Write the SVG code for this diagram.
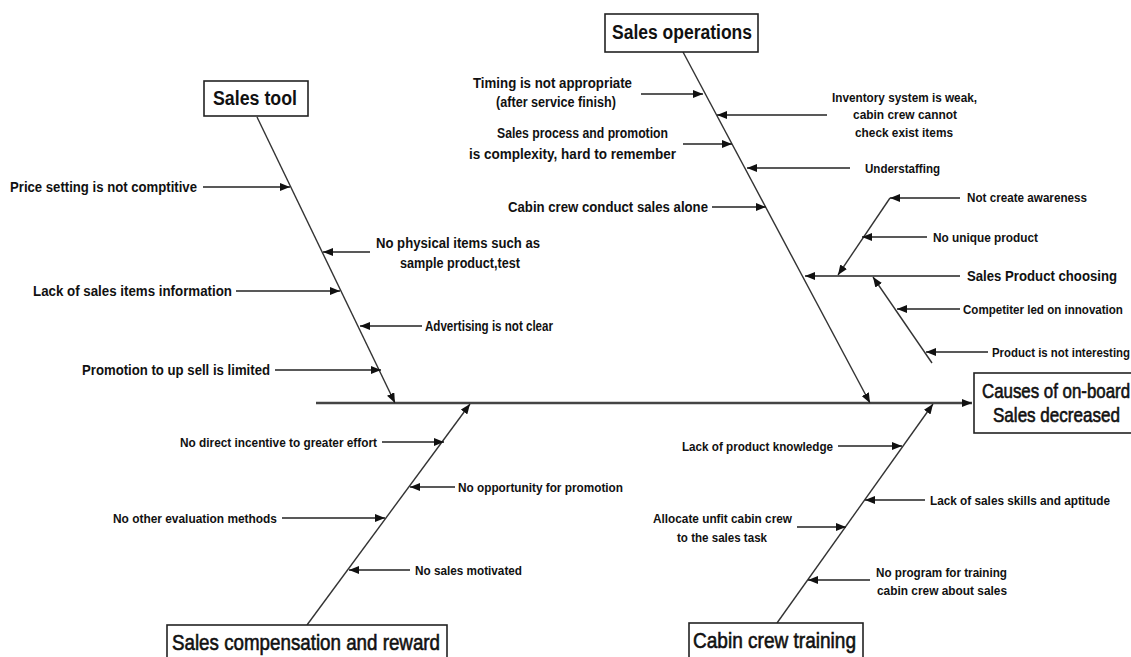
<svg xmlns="http://www.w3.org/2000/svg" width="1131" height="657" viewBox="0 0 1131 657">
<style>
  .bg{fill:#ffffff}
  .spine{stroke:#444;stroke-width:2.6;fill:none}
  .bone{stroke:#333;stroke-width:1.4;fill:none}
  .arr{stroke:#222;stroke-width:1.5;fill:none}
  .box{fill:#fff;stroke:#222;stroke-width:1.6}
  .lbl{font-family:"Liberation Sans",Arial,sans-serif;font-weight:bold;font-size:14px;fill:#111}
  .sm{font-size:13px}
  .md{font-size:15px}
  .ttl{font-family:"Liberation Sans",Arial,sans-serif;font-weight:bold;font-size:20px;fill:#111}
  .ttn{font-family:"Liberation Sans",Arial,sans-serif;font-weight:normal;font-size:22px;fill:#111;stroke:#111;stroke-width:0.6}
  .eff{font-family:"Liberation Sans",Arial,sans-serif;font-weight:normal;font-size:20px;fill:#111;stroke:#111;stroke-width:0.6}
</style>
<defs>
  <marker id="ah" markerUnits="userSpaceOnUse" markerWidth="10" markerHeight="8" refX="10" refY="4" orient="auto">
    <path d="M0,0 L10,4 L0,8 z" fill="#111"/>
  </marker>
</defs>
<rect class="bg" x="0" y="0" width="1131" height="657"/>

<g id="connectors">
  <line class="spine" x1="316" y1="403" x2="972" y2="403" marker-end="url(#ah)"/>
  <line class="bone" x1="257" y1="117" x2="395" y2="403" marker-end="url(#ah)"/>
  <line class="bone" x1="683" y1="52" x2="870" y2="403" marker-end="url(#ah)"/>
  <line class="bone" x1="307" y1="625" x2="470" y2="404" marker-end="url(#ah)"/>
  <line class="bone" x1="777" y1="623" x2="933" y2="404" marker-end="url(#ah)"/>
  <!-- Sales tool causes -->
  <line class="arr" x1="203" y1="187" x2="290" y2="187" marker-end="url(#ah)"/>
  <line class="arr" x1="370" y1="252" x2="323" y2="252" marker-end="url(#ah)"/>
  <line class="arr" x1="236" y1="291" x2="340" y2="291" marker-end="url(#ah)"/>
  <line class="arr" x1="422" y1="326" x2="360" y2="326" marker-end="url(#ah)"/>
  <line class="arr" x1="275" y1="370" x2="381" y2="370" marker-end="url(#ah)"/>
  <!-- Sales operations causes -->
  <line class="arr" x1="641" y1="94" x2="703" y2="94" marker-end="url(#ah)"/>
  <line class="arr" x1="827" y1="115" x2="717" y2="115" marker-end="url(#ah)"/>
  <line class="arr" x1="683" y1="144" x2="732" y2="144" marker-end="url(#ah)"/>
  <line class="arr" x1="850" y1="168" x2="747" y2="168" marker-end="url(#ah)"/>
  <line class="arr" x1="712" y1="207" x2="766" y2="207" marker-end="url(#ah)"/>
  <line class="arr" x1="960" y1="276" x2="805" y2="276" marker-end="url(#ah)"/>
  <line class="bone" x1="890" y1="198" x2="838" y2="275" marker-end="url(#ah)"/>
  <line class="bone" x1="932" y1="363" x2="873" y2="277" marker-end="url(#ah)"/>
  <line class="arr" x1="960" y1="198" x2="890" y2="198" marker-end="url(#ah)"/>
  <line class="arr" x1="927" y1="237" x2="862" y2="237" marker-end="url(#ah)"/>
  <line class="arr" x1="960" y1="309" x2="897" y2="309" marker-end="url(#ah)"/>
  <line class="arr" x1="988" y1="352" x2="926" y2="352" marker-end="url(#ah)"/>
  <!-- Compensation causes -->
  <line class="arr" x1="382" y1="442" x2="444" y2="442" marker-end="url(#ah)"/>
  <line class="arr" x1="455" y1="487" x2="410" y2="487" marker-end="url(#ah)"/>
  <line class="arr" x1="282" y1="518" x2="385" y2="518" marker-end="url(#ah)"/>
  <line class="arr" x1="410" y1="570" x2="349" y2="570" marker-end="url(#ah)"/>
  <!-- Cabin crew causes -->
  <line class="arr" x1="838" y1="446" x2="902" y2="446" marker-end="url(#ah)"/>
  <line class="arr" x1="925" y1="500" x2="865" y2="500" marker-end="url(#ah)"/>
  <line class="arr" x1="797" y1="527" x2="846" y2="527" marker-end="url(#ah)"/>
  <line class="arr" x1="870" y1="580" x2="808" y2="580" marker-end="url(#ah)"/>
</g>

<g id="effect">
  <rect class="box" x="974" y="373" width="166" height="60"/>
  <text class="eff" transform="translate(982,398) scale(0.843,1)" x="0" y="0" textLength="175.6" lengthAdjust="spacingAndGlyphs">Causes of on-board</text>
  <text class="eff" transform="translate(993,422) scale(0.852,1)" x="0" y="0" textLength="149" lengthAdjust="spacingAndGlyphs">Sales decreased</text>
</g>

<g id="sales-tool">
  <rect class="box" x="204" y="81" width="104" height="35"/>
  <text class="ttl" x="213" y="105" textLength="84" lengthAdjust="spacingAndGlyphs">Sales tool</text>
  <text class="lbl" x="10" y="192" textLength="187" lengthAdjust="spacingAndGlyphs">Price setting is not comptitive</text>
  <text class="lbl" x="376" y="248" textLength="164" lengthAdjust="spacingAndGlyphs">No physical items such as</text>
  <text class="lbl" x="400" y="268" textLength="120" lengthAdjust="spacingAndGlyphs">sample product,test</text>
  <text class="lbl" x="33" y="296" textLength="199" lengthAdjust="spacingAndGlyphs">Lack of sales items information</text>
  <text class="lbl" x="425" y="331" textLength="128" lengthAdjust="spacingAndGlyphs">Advertising is not clear</text>
  <text class="lbl" x="82" y="375" textLength="188" lengthAdjust="spacingAndGlyphs">Promotion to up sell is limited</text>
</g>

<g id="sales-operations">
  <rect class="box" x="605" y="14" width="153" height="38"/>
  <text class="ttl" x="612" y="39" textLength="140" lengthAdjust="spacingAndGlyphs">Sales operations</text>
  <text class="lbl" x="473" y="88" textLength="159" lengthAdjust="spacingAndGlyphs">Timing is not appropriate</text>
  <text class="lbl" x="496" y="107" textLength="120" lengthAdjust="spacingAndGlyphs">(after service finish)</text>
  <text class="lbl" x="497" y="138" textLength="171" lengthAdjust="spacingAndGlyphs">Sales process and promotion</text>
  <text class="lbl" x="469" y="159" textLength="207" lengthAdjust="spacingAndGlyphs">is complexity, hard to remember</text>
  <text class="lbl" x="508" y="212" textLength="200" lengthAdjust="spacingAndGlyphs">Cabin crew conduct sales alone</text>
  <text class="lbl sm" x="832" y="102" textLength="145" lengthAdjust="spacingAndGlyphs">Inventory system is weak,</text>
  <text class="lbl sm" x="853" y="119" textLength="104" lengthAdjust="spacingAndGlyphs">cabin crew cannot</text>
  <text class="lbl sm" x="855" y="137" textLength="98" lengthAdjust="spacingAndGlyphs">check exist items</text>
  <text class="lbl sm" x="865" y="173" textLength="75" lengthAdjust="spacingAndGlyphs">Understaffing</text>
</g>

<g id="sales-product-choosing">
  <text class="lbl md" transform="translate(967,281) scale(0.878,1)" x="0" y="0" textLength="170.9" lengthAdjust="spacingAndGlyphs">Sales Product choosing</text>
  <text class="lbl sm" x="967" y="202" textLength="120" lengthAdjust="spacingAndGlyphs">Not create awareness</text>
  <text class="lbl sm" x="933" y="242" textLength="105" lengthAdjust="spacingAndGlyphs">No unique product</text>
  <text class="lbl sm" transform="translate(963,314) scale(0.889,1)" x="0" y="0" textLength="179.9" lengthAdjust="spacingAndGlyphs">Competiter led on innovation</text>
  <text class="lbl sm" transform="translate(992,357) scale(0.876,1)" x="0" y="0" textLength="157.5" lengthAdjust="spacingAndGlyphs">Product is not interesting</text>
</g>

<g id="sales-compensation">
  <rect class="box" x="167" y="625" width="280" height="40"/>
  <text class="ttn" x="172" y="650" textLength="268" lengthAdjust="spacingAndGlyphs">Sales compensation and reward</text>
  <text class="lbl sm" x="180" y="447" textLength="197" lengthAdjust="spacingAndGlyphs">No direct incentive to greater effort</text>
  <text class="lbl sm" x="458" y="492" textLength="165" lengthAdjust="spacingAndGlyphs">No opportunity for promotion</text>
  <text class="lbl sm" x="113" y="523" textLength="164" lengthAdjust="spacingAndGlyphs">No other evaluation methods</text>
  <text class="lbl sm" x="415" y="575" textLength="107" lengthAdjust="spacingAndGlyphs">No sales motivated</text>
</g>

<g id="cabin-crew-training">
  <rect class="box" x="689" y="623" width="174" height="40"/>
  <text class="ttn" x="693" y="648" textLength="163" lengthAdjust="spacingAndGlyphs">Cabin crew training</text>
  <text class="lbl sm" x="682" y="451" textLength="151" lengthAdjust="spacingAndGlyphs">Lack of product knowledge</text>
  <text class="lbl sm" x="930" y="505" textLength="180" lengthAdjust="spacingAndGlyphs">Lack of sales skills and aptitude</text>
  <text class="lbl sm" x="653" y="523" textLength="139" lengthAdjust="spacingAndGlyphs">Allocate unfit cabin crew</text>
  <text class="lbl sm" x="677" y="542" textLength="90" lengthAdjust="spacingAndGlyphs">to the sales task</text>
  <text class="lbl sm" x="876" y="577" textLength="131" lengthAdjust="spacingAndGlyphs">No program for training</text>
  <text class="lbl sm" x="877" y="595" textLength="130" lengthAdjust="spacingAndGlyphs">cabin crew about sales</text>
</g>
</svg>
